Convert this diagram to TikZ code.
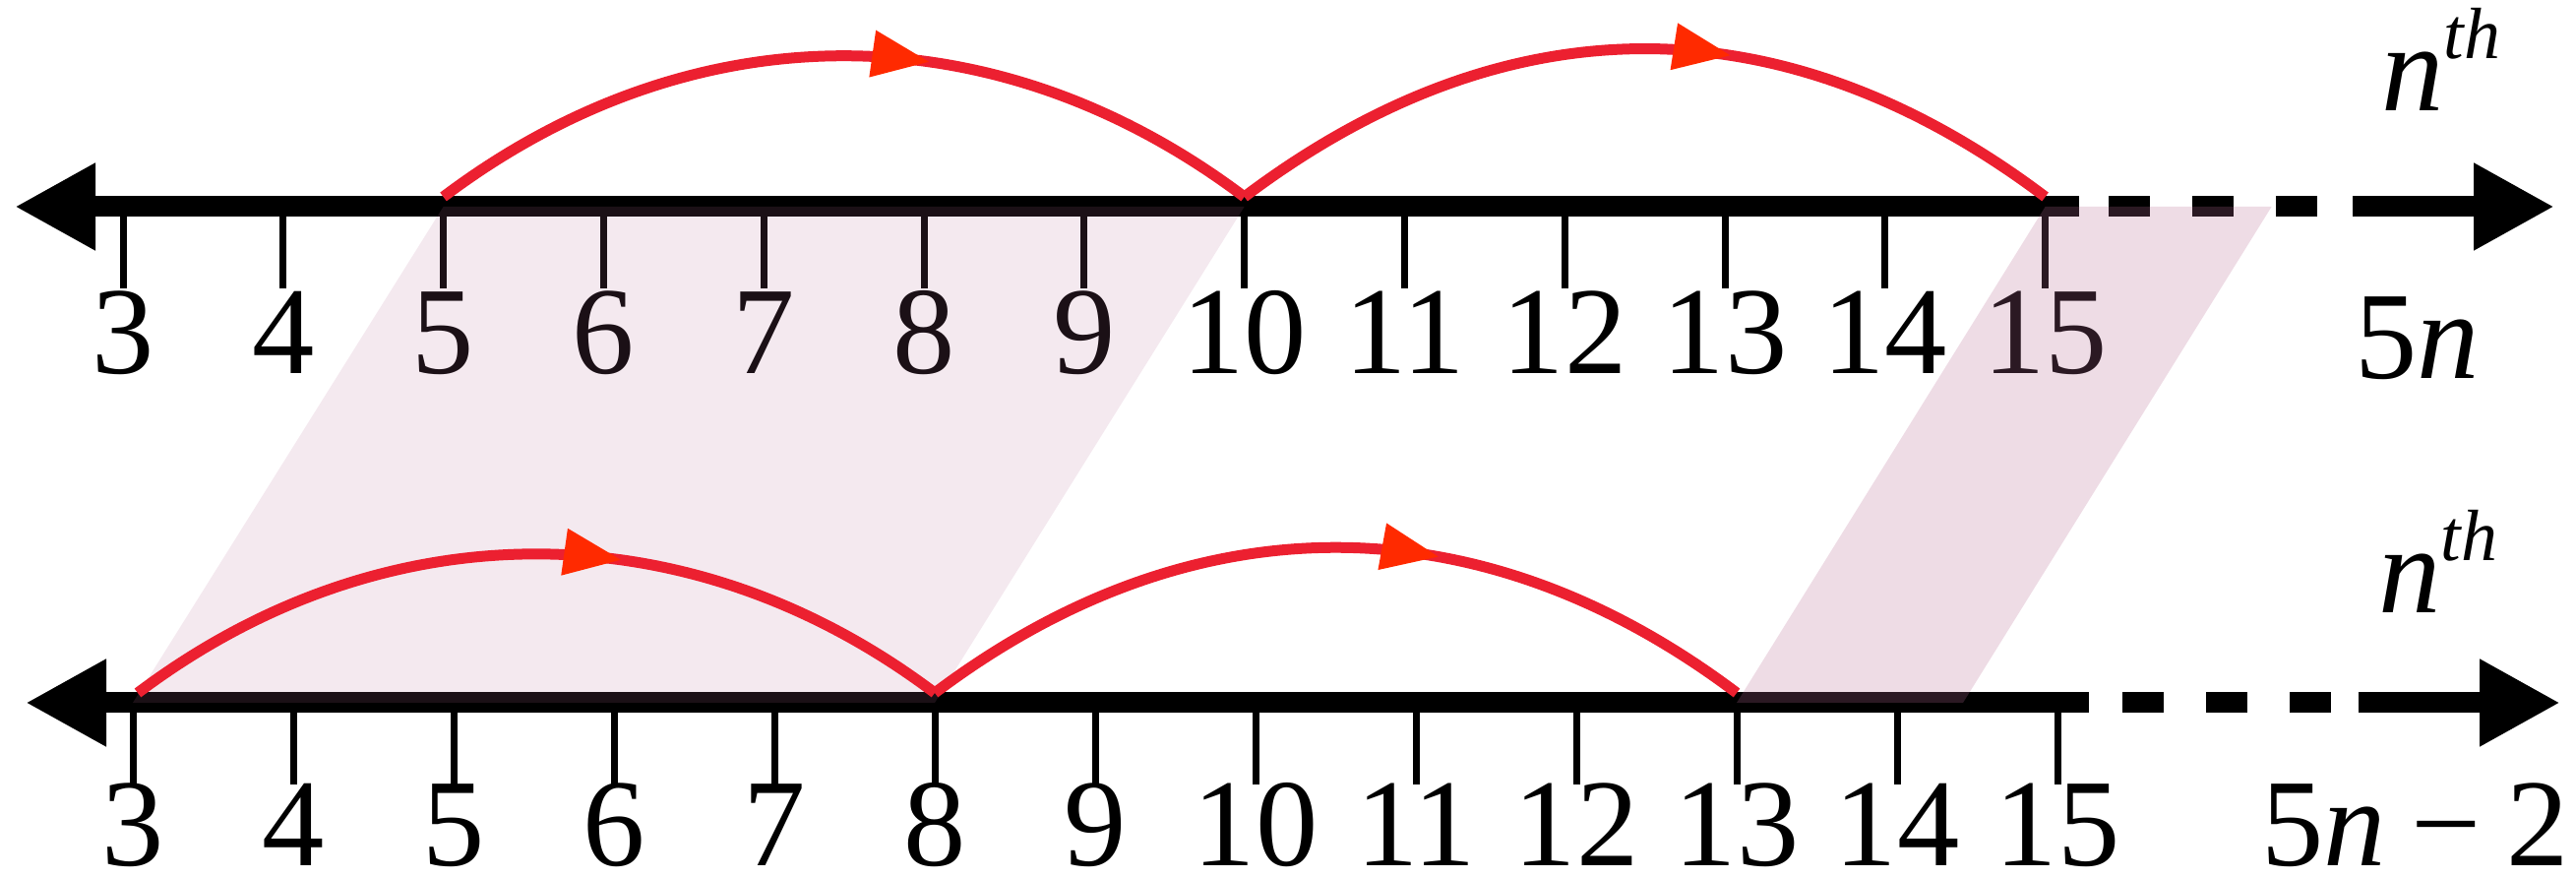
\documentclass[tikz,border=0pt]{standalone}
\usepackage{fontspec}
\setmainfont{Liberation Serif}
\usepackage{xcolor}
\usetikzlibrary{arrows.meta, positioning, decorations.markings}
\definecolor{hopred}{RGB}{236,32,48}
\definecolor{tipred}{RGB}{255,42,0}
\definecolor{bandpink}{RGB}{182,108,148}
\newcommand{\nthlabel}{\textit{n}\raisebox{5.3mm}{\fontsize{21}{21}\selectfont\textit{th}}}

\begin{document}
\begin{tikzpicture}[x=0.1mm, y=0.1mm,
    >={Triangle[length=8.2mm, width=8.3mm]},
    axis/.style = {line width=2.1mm, black},
    dashpart/.style = {axis, dash pattern=on 4.2mm off 4.3mm},
    tick/.style = {line width=0.7mm, black},
    num/.style = {font=\fontsize{36}{40}\selectfont, anchor=base, inner sep=0pt},
    hop/.style = {draw=hopred, line width=1.1mm, postaction={decorate},
                  decoration={markings, mark=at position #1 with
                  {\arrow{Triangle[length=5.9mm, width=4.5mm, color=tipred]}}}},
    hop/.default = 0.6,
    band/.style = {fill=bandpink, fill opacity=#1}
]
\useasboundingbox (0,0) rectangle (2618,892);

% top line: 5n
\coordinate (topL) at (15,682);
\coordinate (topA) at (2113,682);
\coordinate (topD) at (2143,682);
\coordinate (topB) at (2391,682);
\coordinate (topR) at (2596,682);
\draw[axis, <-] (topL) -- (topA);
\draw[dashpart] (topD) -- (topB);
\draw[axis, ->] (topB) -- (topR);

\foreach \k in {3,...,15} {
  \coordinate (t\k) at ({125+162.8*(\k-3)}, 682);
  \draw[tick] (t\k) -- ++(0,-83);
  \node[num] (lt\k) at ({125+162.8*(\k-3)}, 512) {\k};
}

% bottom line: 5n-2
\coordinate (botL) at (26,178);
\coordinate (botA) at (2123,178);
\coordinate (botD) at (2157,178);
\coordinate (botB) at (2397,178);
\coordinate (botR) at (2602,178);
\draw[axis, <-] (botL) -- (botA);
\draw[dashpart] (botD) -- (botB);
\draw[axis, ->] (botB) -- (botR);

\foreach \k in {3,...,15} {
  \coordinate (b\k) at ({135+163*(\k-3)}, 178);
  \draw[tick] (b\k) -- ++(0,-83);
  \node[num] (lb\k) at ({135+163*(\k-3)}, 12) {\k};
}

\fill[band=0.15] (t5) -- (t10) -- (b8) -- (b3) -- cycle;
\fill[band=0.24] (t15) -- ([xshift=23mm]t15) -- ([xshift=23mm]b13) -- (b13) -- cycle;

\draw[hop] ([yshift=1mm]t5) to[out=37, in=143] ([yshift=1mm]t10);
\draw[hop] ([yshift=1mm]t10) to[out=37, in=143, looseness=1.05] ([yshift=1mm]t15);
\draw[hop] ([xshift=0.5mm, yshift=1mm]b3) to[out=37, in=143, looseness=0.99] ([yshift=1mm]b8);
\draw[hop=0.62] ([yshift=1mm]b8) to[out=37, in=143, looseness=1.03] ([yshift=1mm]b13);

\node[num, anchor=base west] (nthtop) at (2420,779) {\nthlabel};
\node[num, anchor=base west] (endtop) at (2393,507) {5\textit{n}};
\node[num, anchor=base west] (nthbot) at (2417,269) {\nthlabel};
\node[num, anchor=base west] (endbot) at (2298,12) {5\textit{n}\hspace{0.2em}−\hspace{0.2em}2};

\end{tikzpicture}
\end{document}
